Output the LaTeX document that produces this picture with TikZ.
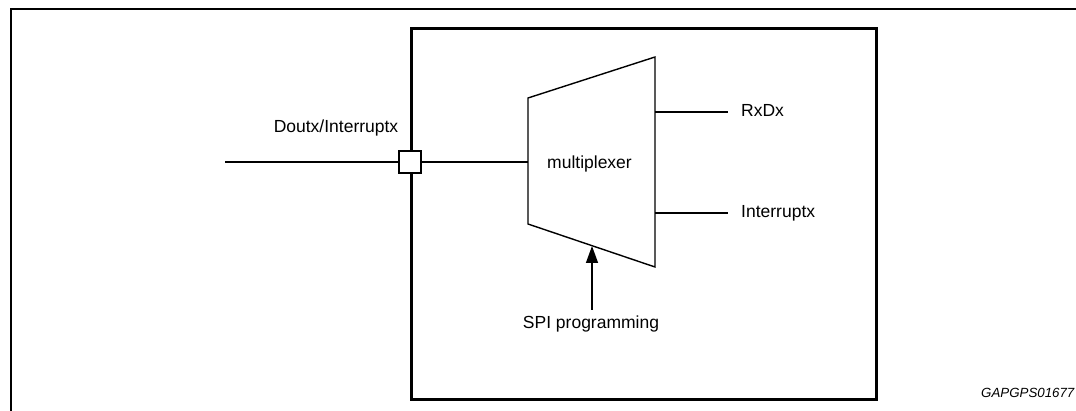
\documentclass[tikz,border=0pt]{standalone}
\usepackage{fontspec}
\setmainfont{Liberation Sans}
\usetikzlibrary{arrows.meta}
\begin{document}
\begin{tikzpicture}[x=1pt,y=-1pt,
  lbl/.style={font=\fontsize{17.5}{20}\selectfont, inner sep=0pt},
  wire/.style={line width=1.4pt},
  frame/.style={line width=2.7pt},
  code/.style={font=\fontsize{13.3}{15}\selectfont\itshape, inner sep=0pt}]
\useasboundingbox (0,0) rectangle (1076,411);
% outer frame
\coordinate (fbl) at (11,411);
\coordinate (ftl) at (11,9);
\coordinate (ftr) at (1076,9);
\draw[frame] (fbl) -- (ftl) -- (ftr);
% chip box
\node[draw, frame, minimum width=465pt, minimum height=371pt, inner sep=0pt, anchor=north west] (chip) at (410,27) {};
% multiplexer trapezoid
\coordinate (m1) at (528,98);
\coordinate (m2) at (655,57);
\coordinate (m3) at (655,267);
\coordinate (m4) at (528,224);
\draw[wire, line join=miter] (m1) -- (m2) -- (m3) -- (m4) -- cycle;
\node[lbl, anchor=base] (mux) at (589.5,169) {multiplexer};
% port
\node[draw, wire, fill=white, minimum size=22pt, inner sep=0pt] (port) at (410,162) {};
\coordinate (in) at (225,162);
\coordinate (muxin) at (528,162);
\draw[wire] (in) -- (port.west);
\draw[wire] (port.east) -- (muxin);
\node[lbl, anchor=base] (doutlbl) at (336,133) {Doutx/Interruptx};
% outputs
\coordinate (o1) at (655,112);
\coordinate (o1e) at (728,112);
\coordinate (o2) at (655,213);
\coordinate (o2e) at (728,213);
\draw[wire] (o1) -- (o1e);
\draw[wire] (o2) -- (o2e);
\node[lbl, anchor=base west] (rxd) at (741,117) {RxDx};
\node[lbl, anchor=base west] (irq) at (741,218) {Interruptx};
% SPI programming
\node[lbl, anchor=base] (spi) at (591,329) {SPI programming};
\coordinate (spis) at (592,310);
\coordinate (spie) at (592,246);
\draw[wire, -{Triangle[length=17pt,width=12pt]}] (spis) -- (spie);
% code
\node[code, anchor=base west] (gap) at (981,397) {GAPGPS01677};
\end{tikzpicture}
\end{document}
